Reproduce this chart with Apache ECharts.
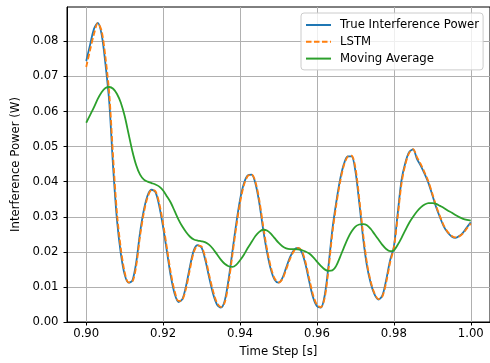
<!DOCTYPE html>
<html>
<head>
<meta charset="utf-8">
<script src="https://cdn.jsdelivr.net/npm/echarts@6/dist/echarts.min.js"></script>
<style>html,body{margin:0;padding:0;background:#fff}#c{width:490px;height:363px}</style>
</head>
<body>
<div id="c"></div>
<script>
const timeSteps = [0.900,0.901,0.902,0.903,0.904,0.905,0.906,0.907,0.908,0.909,
0.910,0.911,0.912,0.913,0.914,0.915,0.916,0.917,0.918,0.919,
0.920,0.921,0.922,0.923,0.924,0.925,0.926,0.927,0.928,0.929,
0.930,0.931,0.932,0.933,0.934,0.935,0.936,0.937,0.938,0.939,
0.940,0.941,0.942,0.943,0.944,0.945,0.946,0.947,0.948,0.949,
0.950,0.951,0.952,0.953,0.954,0.955,0.956,0.957,0.958,0.959,
0.960,0.961,0.962,0.963,0.964,0.965,0.966,0.967,0.968,0.969,
0.970,0.971,0.972,0.973,0.974,0.975,0.976,0.977,0.978,0.979,
0.980,0.981,0.982,0.983,0.984,0.985,0.986,0.987,0.988,0.989,
0.990,0.991,0.992,0.993,0.994,0.995,0.996,0.997,0.998,0.999,1.000];

const truePower = [0.0744,0.0790,0.0835,0.0853,0.0820,0.0735,0.0625,0.0440,0.0290,0.0195,
0.0135,0.0112,0.0118,0.0170,0.0255,0.0320,0.0362,0.0377,0.0370,0.0330,
0.0270,0.0200,0.0130,0.0080,0.0057,0.0065,0.0105,0.0160,0.0205,0.0219,
0.0212,0.0175,0.0125,0.0080,0.0050,0.0041,0.0060,0.0120,0.0200,0.0280,
0.0349,0.0395,0.0418,0.0420,0.0395,0.0340,0.0265,0.0200,0.0150,0.0120,
0.0112,0.0125,0.0155,0.0185,0.0205,0.0211,0.0200,0.0165,0.0115,0.0070,
0.0045,0.0041,0.0075,0.0160,0.0263,0.0340,0.0405,0.0450,0.0472,0.0472,
0.0430,0.0340,0.0240,0.0160,0.0110,0.0078,0.0064,0.0075,0.0120,0.0175,
0.0215,0.0310,0.0405,0.0455,0.0485,0.0492,0.0465,0.0445,0.0422,0.0396,
0.0362,0.0327,0.0298,0.0272,0.0255,0.0244,0.0240,0.0245,0.0255,0.0270,0.0284];

const lstmPower = [0.0727,0.0775,0.0820,0.0852,0.0830,0.0755,0.0650,0.0470,0.0310,0.0210,
0.0142,0.0113,0.0115,0.0160,0.0245,0.0312,0.0357,0.0376,0.0373,0.0338,
0.0280,0.0210,0.0140,0.0088,0.0060,0.0063,0.0098,0.0152,0.0200,0.0218,
0.0215,0.0182,0.0133,0.0088,0.0055,0.0043,0.0055,0.0110,0.0190,0.0270,
0.0340,0.0390,0.0416,0.0421,0.0400,0.0348,0.0275,0.0208,0.0157,0.0124,
0.0113,0.0122,0.0150,0.0180,0.0202,0.0211,0.0204,0.0172,0.0123,0.0077,
0.0049,0.0042,0.0068,0.0150,0.0252,0.0332,0.0398,0.0446,0.0471,0.0474,
0.0440,0.0352,0.0252,0.0168,0.0115,0.0081,0.0065,0.0072,0.0113,0.0168,
0.0212,0.0300,0.0395,0.0450,0.0482,0.0493,0.0470,0.0450,0.0426,0.0400,
0.0366,0.0331,0.0301,0.0275,0.0257,0.0246,0.0241,0.0244,0.0253,0.0267,0.0281];

const movingAvg = [0.0568,0.0590,0.0612,0.0636,0.0655,0.0667,0.0670,0.0665,0.0650,0.0625,
0.0587,0.0537,0.0487,0.0447,0.0420,0.0406,0.0400,0.0396,0.0392,0.0386,
0.0375,0.0358,0.0340,0.0316,0.0292,0.0272,0.0256,0.0243,0.0235,0.0232,
0.0230,0.0227,0.0220,0.0208,0.0193,0.0178,0.0166,0.0159,0.0157,0.0163,
0.0176,0.0192,0.0211,0.0228,0.0245,0.0257,0.0263,0.0261,0.0252,0.0239,
0.0226,0.0216,0.0210,0.0208,0.0208,0.0207,0.0205,0.0201,0.0195,0.0185,
0.0172,0.0160,0.0150,0.0146,0.0147,0.0160,0.0185,0.0212,0.0238,0.0258,
0.0272,0.0278,0.0279,0.0276,0.0265,0.0250,0.0235,0.0220,0.0208,0.0202,
0.0204,0.0220,0.0240,0.0262,0.0283,0.0300,0.0315,0.0327,0.0335,0.0339,
0.0339,0.0337,0.0331,0.0325,0.0318,0.0312,0.0305,0.0299,0.0294,0.0291,0.0289];

const xTicks = [0.90, 0.92, 0.94, 0.96, 0.98, 1.00];
const yTicks = [0.00, 0.01, 0.02, 0.03, 0.04, 0.05, 0.06, 0.07, 0.08];
const seriesNames = ['True Interference Power', 'LSTM', 'Moving Average'];

const pair = (vals) => timeSteps.map((t, i) => [t, vals[i]]);
const FONT = 'DejaVu Sans';
const FS = 11.7;
const chart = echarts.init(document.getElementById('c'), null, {renderer: 'canvas'});
chart.setOption({
  animation: false,
  textStyle: {fontFamily: FONT},
  grid: {left: 67, top: 7, width: 425, height: 316, show: true, borderColor: '#000', borderWidth: 1, backgroundColor: 'transparent'},
  legend: {
    orient: 'vertical', left: 301, top: 13,
    itemWidth: 25, itemHeight: 10, itemGap: 4.8,
    padding: [6, 4, 5.3, 4],
    backgroundColor: 'rgba(255,255,255,0.8)', borderColor: '#ccc', borderWidth: 1, borderRadius: 3,
    itemStyle: {opacity: 0},
    textStyle: {fontFamily: FONT, fontSize: FS, color: '#000', padding: [0, 0, 0, 4]},
    data: seriesNames
  },
  xAxis: {
    type: 'value', min: 0.895, max: 1.005,
    name: 'Time Step [s]', nameLocation: 'middle', nameGap: 24,
    nameTextStyle: {fontFamily: FONT, fontSize: FS, color: '#000'},
    axisLine: {show: true, onZero: false, lineStyle: {color: '#000', width: 1}},
    axisTick: {show: true, length: 3.5, customValues: xTicks, lineStyle: {color: '#000'}},
    axisLabel: {customValues: xTicks, fontFamily: FONT, fontSize: FS, color: '#000', margin: 6, formatter: v => v.toFixed(2)},
    splitLine: {show: true, lineStyle: {color: '#b0b0b0', width: 1}}
  },
  yAxis: {
    type: 'value', min: 0, max: 0.0898,
    name: 'Interference Power (W)', nameLocation: 'middle', nameGap: 39,
    nameTextStyle: {fontFamily: FONT, fontSize: FS, color: '#000'},
    axisLine: {show: true, lineStyle: {color: '#000', width: 1}},
    axisTick: {show: true, length: 3.5, customValues: yTicks, lineStyle: {color: '#000'}},
    axisLabel: {customValues: yTicks, fontFamily: FONT, fontSize: FS, color: '#000', margin: 8.5, formatter: v => v.toFixed(2)},
    splitLine: {show: true, lineStyle: {color: '#b0b0b0', width: 1}}
  },
  series: [
    {name: seriesNames[0], type: 'line', data: pair(truePower), showSymbol: false, symbol: 'none', smooth: 0.3,
     lineStyle: {color: '#1f77b4', width: 1.8}, itemStyle: {color: '#1f77b4'}, z: 2},
    {name: seriesNames[1], type: 'line', data: pair(lstmPower), showSymbol: false, symbol: 'none', smooth: 0.3,
     lineStyle: {color: '#ff7f0e', width: 1.8, type: [5.5, 2.5]}, itemStyle: {color: '#ff7f0e'}, z: 3},
    {name: seriesNames[2], type: 'line', data: pair(movingAvg), showSymbol: false, symbol: 'none', smooth: 0.3,
     lineStyle: {color: '#2ca02c', width: 1.8}, itemStyle: {color: '#2ca02c'}, z: 4}
  ]
});
</script>
</body>
</html>
